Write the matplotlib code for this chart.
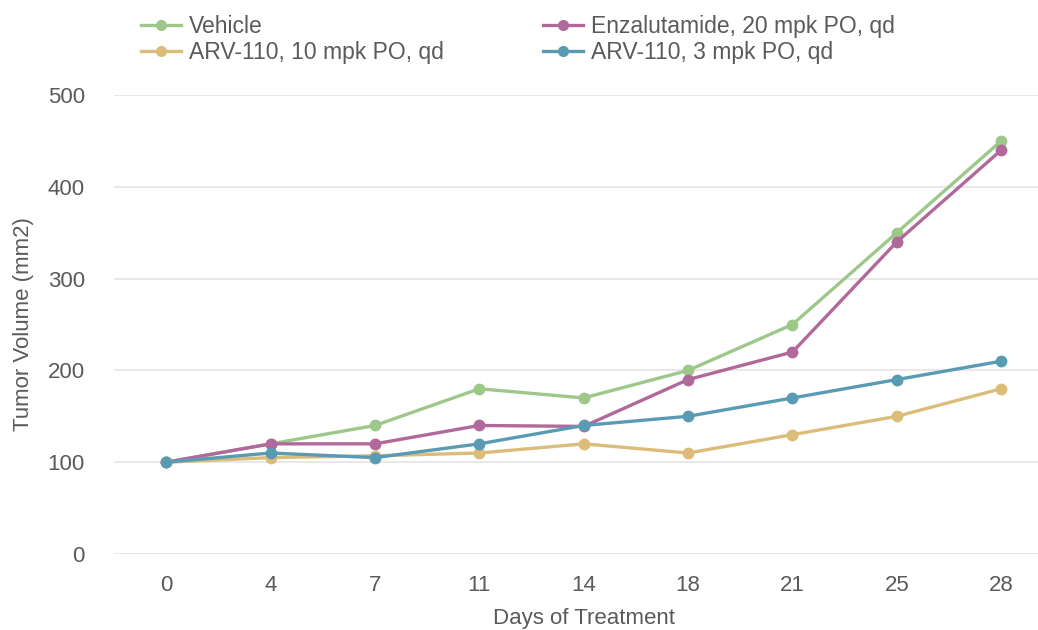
import matplotlib
matplotlib.use("Agg")
import matplotlib.pyplot as plt
import numpy as np

plt.rcParams['font.family'] = ['Liberation Sans', 'DejaVu Sans']

days = ["0", "4", "7", "11", "14", "18", "21", "25", "28"]
vehicle = [100, 120, 140, 180, 170, 200, 250, 350, 450]
enzalutamide = [100, 120, 120, 140, 139, 190, 220, 340, 440]
arv_10 = [100, 105, 107, 110, 120, 110, 130, 150, 180]
arv_3 = [100, 110, 105, 120, 140, 150, 170, 190, 210]

series = [
    ("Vehicle", vehicle, "#9ec78a"),
    ("Enzalutamide, 20 mpk PO, qd", enzalutamide, "#b1699b"),
    ("ARV-110, 10 mpk PO, qd", arv_10, "#dbbd79"),
    ("ARV-110, 3 mpk PO, qd", arv_3, "#5a9bb4"),
]

text_color = "#5a5a5a"
fig = plt.figure(figsize=(10.38, 6.30), dpi=100)
ax = fig.add_axes([114 / 1038, 76 / 630, 939.4 / 1038, 459 / 630])

x = np.arange(len(days))
lines = {}
for name, vals, col in series:
    ln, = ax.plot(x, vals, color=col, lw=2.4, marker="o", ms=7.5, clip_on=False, label=name)
    lines[name] = ln

ax.set_xlim(-0.5, 8.5)
ax.set_ylim(0, 500)
ax.set_xticks(x)
ax.set_xticklabels(days)
ax.set_yticks([0, 100, 200, 300, 400, 500])
ax.grid(axis="y", color="#e6e6e6", lw=1.3)
ax.set_axisbelow(True)
for s in ax.spines.values():
    s.set_visible(False)
ax.tick_params(length=0, labelsize=16, colors=text_color)
ax.tick_params(axis="x", pad=15)
ax.tick_params(axis="y", pad=21)
ax.set_xlabel("Days of Treatment", fontsize=16, color=text_color, labelpad=9)
ax.set_ylabel("Tumor Volume (mm2)", fontsize=16, color=text_color, labelpad=10)

order = ["Vehicle", "ARV-110, 10 mpk PO, qd", "Enzalutamide, 20 mpk PO, qd", "ARV-110, 3 mpk PO, qd"]
leg = fig.legend([lines[n] for n in order], order, ncol=2, loc="upper left",
                 bbox_to_anchor=(120 / 1038, 1 + 6 / 630), frameon=False, fontsize=16.5,
                 handlelength=1.75, handletextpad=0.35, columnspacing=4.35, labelspacing=0.16,
                 labelcolor=text_color)
for h in leg.legend_handles:
    h.set_markersize(7)

fig.savefig("out.png", dpi=100)
